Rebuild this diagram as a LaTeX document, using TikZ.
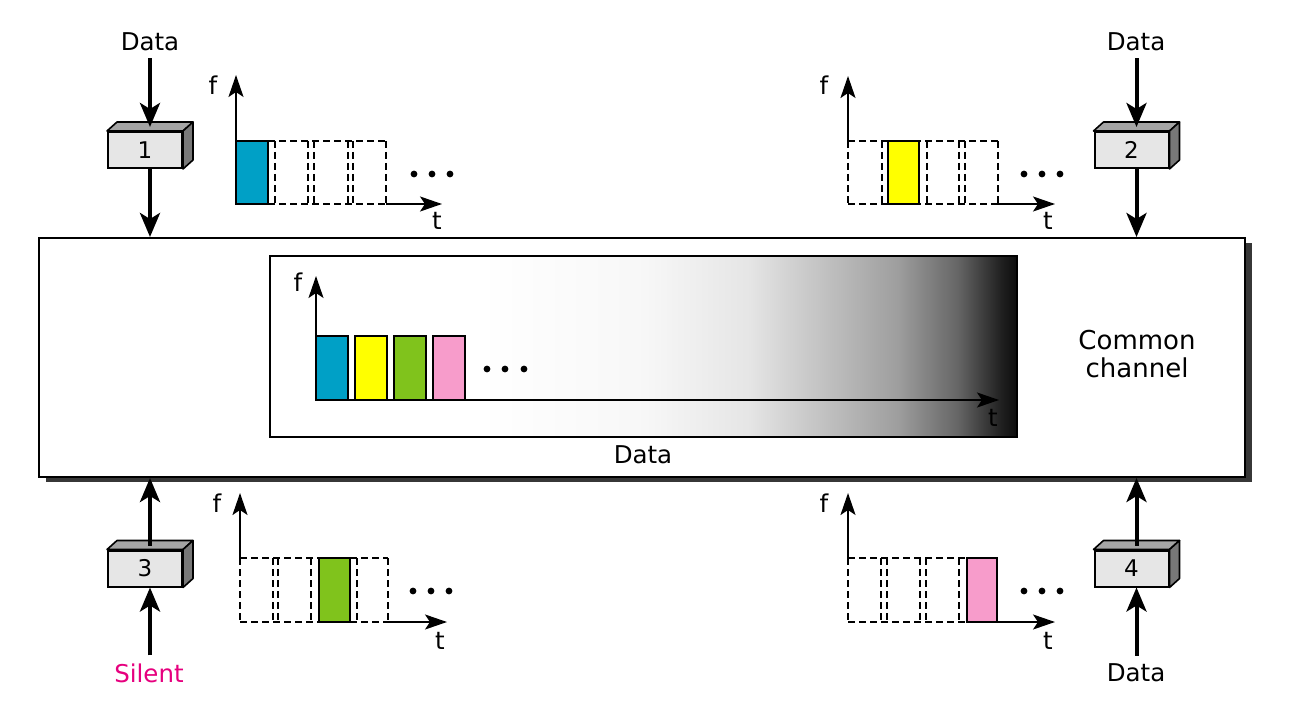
\documentclass[tikz,border=0pt]{standalone}
\usepackage{fontspec}
\setmainfont{DejaVu Sans}
\usetikzlibrary{arrows.meta,calc}
\definecolor{cblue}{RGB}{0,160,198}
\definecolor{cyel}{RGB}{255,255,0}
\definecolor{cgreen}{RGB}{128,195,28}
\definecolor{cpink}{RGB}{247,156,203}
\definecolor{cmag}{RGB}{230,0,126}
\definecolor{facefront}{RGB}{230,230,230}
\definecolor{facetop}{RGB}{165,165,165}
\definecolor{faceside}{RGB}{120,120,120}
\definecolor{shadowc}{RGB}{55,55,55}
\pgfdeclarehorizontalshading{chgrad}{100bp}{rgb(0bp)=(1,1,1); rgb(39bp)=(1,1,1); rgb(50bp)=(0.97,0.97,0.97); rgb(57bp)=(0.9,0.9,0.9); rgb(67bp)=(0.62,0.62,0.62); rgb(71bp)=(0.4,0.4,0.4); rgb(74bp)=(0.12,0.12,0.12); rgb(75bp)=(0.05,0.05,0.05); rgb(100bp)=(0.05,0.05,0.05)}
\newcommand\cubebox[4]{%
  \node[frontface] (#1) at (#2,#3) {#4};
  \filldraw[fill=facetop, line width=1.6pt, line join=round] (#1.north west) -- ++(10,-9) -- ($(#1.north east)+(10,-9)$) -- (#1.north east) -- cycle;
  \filldraw[fill=faceside, line width=1.6pt, line join=round] (#1.north east) -- ++(10,-9) -- ($(#1.south east)+(10,-9)$) -- (#1.south east) -- cycle;
}
% slots: #1 = top y, #2 = bottom y, #3 = left x of the run, #4 = right x of the run, #5 = list of vertical edges
\newcommand\slotrun[5]{%
  \draw[dline] (#3,#1) -- (#4,#1);
  \draw[dline] (#3,#2) -- (#4,#2);
  \foreach \sx in {#5} \draw[dline] (\sx,#1) -- (\sx,#2);
}
\begin{document}
\begin{tikzpicture}[x=1pt,y=-1pt,
  lbl/.style={inner sep=0pt, font=\fontsize{24.5}{29}\selectfont},
  biglbl/.style={inner sep=0pt, align=center, font=\fontsize{26}{28}\selectfont},
  bigarr/.style={line width=4pt, -{Stealth[length=24pt,width=20pt,inset=6pt]}},
  axarr/.style={line width=2pt, -{Stealth[length=22pt,width=15pt,inset=5pt]}},
  dline/.style={line width=1.6pt, dash pattern=on 7pt off 4pt},
  bar/.style={draw, line width=2pt},
  frontface/.style={draw, line width=2pt, fill=facefront, minimum width=74pt, minimum height=36pt, inner sep=0pt, font=\fontsize{23}{27}\selectfont},
]
\useasboundingbox (0,0) rectangle (1305,722);

% common channel
\fill[shadowc] (46,243) rectangle (1252,482);
\node[draw, line width=2pt, fill=white, minimum width=1206pt, minimum height=239pt, inner sep=0pt] (ch) at (642,357.5) {};
\node[draw, line width=2pt, shade, shading=chgrad, minimum width=747pt, minimum height=181pt, inner sep=0pt] (inner) at (643.5,346.5) {};
\node[lbl] (chdata) at (643,455) {Data};
\node[biglbl] (common) at (1137,354.5) {Common\\channel};

% inner chart
\draw[bar, fill=cblue] (316,336) rectangle (348,400);
\draw[bar, fill=cyel] (355,336) rectangle (387,400);
\draw[bar, fill=cgreen] (394,336) rectangle (426,400);
\draw[bar, fill=cpink] (433,336) rectangle (465,400);
\draw[axarr] (316,336) -- (316,276);
\draw[axarr] (316,400) -- (999,400);
\node[lbl] (if) at (298,282) {f};
\node[lbl] (it) at (993,418) {t};
\foreach \x in {487,505,524} \fill (\x,369) circle (3.4);

% box 1
\cubebox{b1}{145}{150}{1}
\node[lbl] (d1) at (150,42) {Data};
\coordinate (b1in) at ($(b1.north)+(5,-4)$);
\draw[bigarr] ($(d1.south -| b1in)+(0,7)$) -- (b1in);
\draw[bigarr] (b1in |- b1.south) -- (b1in |- ch.north);

% box 2
\cubebox{b2}{1131.5}{150}{2}
\node[lbl] (d2) at (1136,42) {Data};
\coordinate (b2in) at ($(b2.north)+(5,-4)$);
\draw[bigarr] ($(d2.south -| b2in)+(0,7)$) -- (b2in);
\draw[bigarr] (b2in |- b2.south) -- (b2in |- ch.north);

% box 3
\cubebox{b3}{145}{568.5}{3}
\node[lbl, text=cmag] (s3) at (149,673) {Silent};
\coordinate (b3out) at ($(b3.north)+(5,-4)$);
\draw[bigarr] ($(s3.north -| b3out)+(0,-8)$) -- (b3out |- b3.south);
\draw[bigarr] (b3out) -- (b3out |- ch.south);

% box 4
\cubebox{b4}{1131.5}{568.5}{4}
\node[lbl] (d4) at (1136,673) {Data};
\coordinate (b4out) at ($(b4.north)+(5,-4)$);
\draw[bigarr] ($(d4.north -| b4out)+(0,-8)$) -- (b4out |- b4.south);
\draw[bigarr] (b4out) -- (b4out |- ch.south);

% chart 1 (top left)
\slotrun{141}{204}{268}{386}{275,308,314,348,353,386}
\draw[bar, fill=cblue] (236,141) rectangle (268,204);
\draw[axarr] (236,141) -- (236,75);
\draw[axarr] (386,204) -- (442,204);
\node[lbl] (f1) at (213,85) {f};
\node[lbl] (t1) at (437,221) {t};
\foreach \x in {414,432,450} \fill (\x,174) circle (3.4);

% chart 2 (top right)
\slotrun{141}{204}{848}{998}{848,882,927,959,965,998}
\draw[bar, fill=cyel] (888,141) rectangle (919,204);
\draw[axarr] (848,141) -- (848,76);
\draw[axarr] (998,204) -- (1055,204);
\node[lbl] (f2) at (824,85) {f};
\node[lbl] (t2) at (1048,221) {t};
\foreach \x in {1024,1042,1060} \fill (\x,174) circle (3.4);

% chart 3 (bottom left)
\slotrun{558}{622}{240}{388}{240,273,278,311,357,388}
\draw[bar, fill=cgreen] (319,558) rectangle (350,622);
\draw[axarr] (240,558) -- (240,493);
\draw[axarr] (388,622) -- (447,622);
\node[lbl] (f3) at (217,503) {f};
\node[lbl] (t3) at (440,641) {t};
\foreach \x in {413,431,449} \fill (\x,591) circle (3.4);

% chart 4 (bottom right)
\slotrun{558}{622}{848}{967}{848,881,887,920,926,959}
\draw[bar, fill=cpink] (967,558) rectangle (997,622);
\draw[axarr] (848,558) -- (848,493);
\draw[axarr] (997,622) -- (1055,622);
\node[lbl] (f4) at (824,503) {f};
\node[lbl] (t4) at (1048,641) {t};
\foreach \x in {1024,1042,1060} \fill (\x,591) circle (3.4);
\end{tikzpicture}
\end{document}
